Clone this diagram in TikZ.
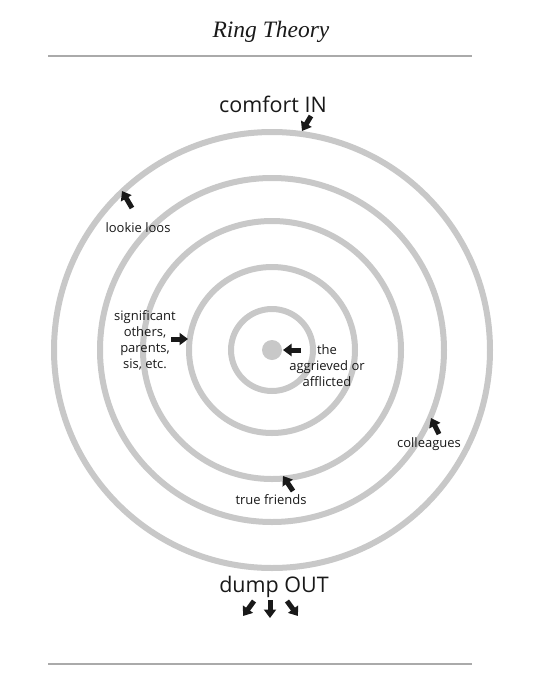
\documentclass[tikz,border=0pt]{standalone}
\usepackage{fontspec}
\setmainfont{Open Sans}
\newfontfamily\titlefont{Liberation Serif}
\usetikzlibrary{arrows.meta}
\definecolor{ringgray}{RGB}{200,200,200}
\definecolor{rulegray}{RGB}{170,170,170}
\definecolor{ink}{RGB}{25,25,25}
\tikzset{
  ring/.style={circle, draw=ringgray, line width=6pt, inner sep=0pt, outer sep=0pt},
  lbl/.style={text=ink, font=\fontsize{13}{16}\selectfont, align=center, inner sep=0pt},
  big/.style={text=ink, font=\fontsize{21.5}{24}\selectfont, inner sep=0pt},
  blk/.style={draw=ink, line width=5pt, -{Triangle[width=12pt,length=8.5pt]}},
  rulebar/.style={draw=rulegray, line width=1.3pt}
}
\begin{document}
\begin{tikzpicture}[x=1pt,y=-1pt]
\useasboundingbox (0,0) rectangle (546,686);
\fill[white] (0,0) rectangle (546,686);
% title and rules
\node[text=ink, font=\titlefont\itshape\fontsize{23.5}{26}\selectfont, inner sep=0pt] (title) at (271,32) {Ring Theory};
\coordinate (tl) at (48,56); \coordinate (tr) at (472,56);
\coordinate (bl) at (48,664); \coordinate (br) at (472,664);
\draw[rulebar] (tl) -- (tr);
\draw[rulebar] (bl) -- (br);
% rings
\coordinate (c) at (272,350);
\node[ring, minimum size=436pt] (r1) at (c) {};
\node[ring, minimum size=344pt] (r2) at (c) {};
\node[ring, minimum size=258pt] (r3) at (c) {};
\node[ring, minimum size=166pt] (r4) at (c) {};
\node[ring, minimum size=82pt] (r5) at (c) {};
\node[circle, fill=ringgray, minimum size=20pt, inner sep=0pt] (dot) at (c) {};
% labels
\node[big] (comfort) at (273,104) {comfort IN};
\node[big] (dump) at (274,587) {dump OUT};
\node[lbl] (lookie) at (138,228) {lookie loos};
\node[lbl] (sig) at (145,340) {significant\\others,\\parents,\\sis, etc.};
\node[lbl] (agg) at (327,366) {the\\aggrieved or\\afflicted};
\node[lbl] (coll) at (429,444) {colleagues};
\node[lbl] (true) at (271,500) {true friends};
% arrows
\coordinate (a1t) at (311,116); \coordinate (a1h) at (302,131);
\draw[blk] (a1t) -- (a1h);
\coordinate (a2t) at (132,208); \coordinate (a2h) at (122,191);
\draw[blk] (a2t) -- (a2h);
\coordinate (a3t) at (171,339); \coordinate (a3h) at (188,339);
\draw[blk] (a3t) -- (a3h);
\coordinate (a4t) at (301,350); \coordinate (a4h) at (283,350);
\draw[blk] (a4t) -- (a4h);
\coordinate (a5t) at (439,434); \coordinate (a5h) at (431,418);
\draw[blk] (a5t) -- (a5h);
\coordinate (a6t) at (293,491); \coordinate (a6h) at (283,476);
\draw[blk] (a6t) -- (a6h);
\coordinate (d1t) at (254,601); \coordinate (d1h) at (243,616);
\draw[blk] (d1t) -- (d1h);
\coordinate (d2t) at (270,600); \coordinate (d2h) at (270,618);
\draw[blk] (d2t) -- (d2h);
\coordinate (d3t) at (287,601); \coordinate (d3h) at (298,616);
\draw[blk] (d3t) -- (d3h);
\end{tikzpicture}
\end{document}
